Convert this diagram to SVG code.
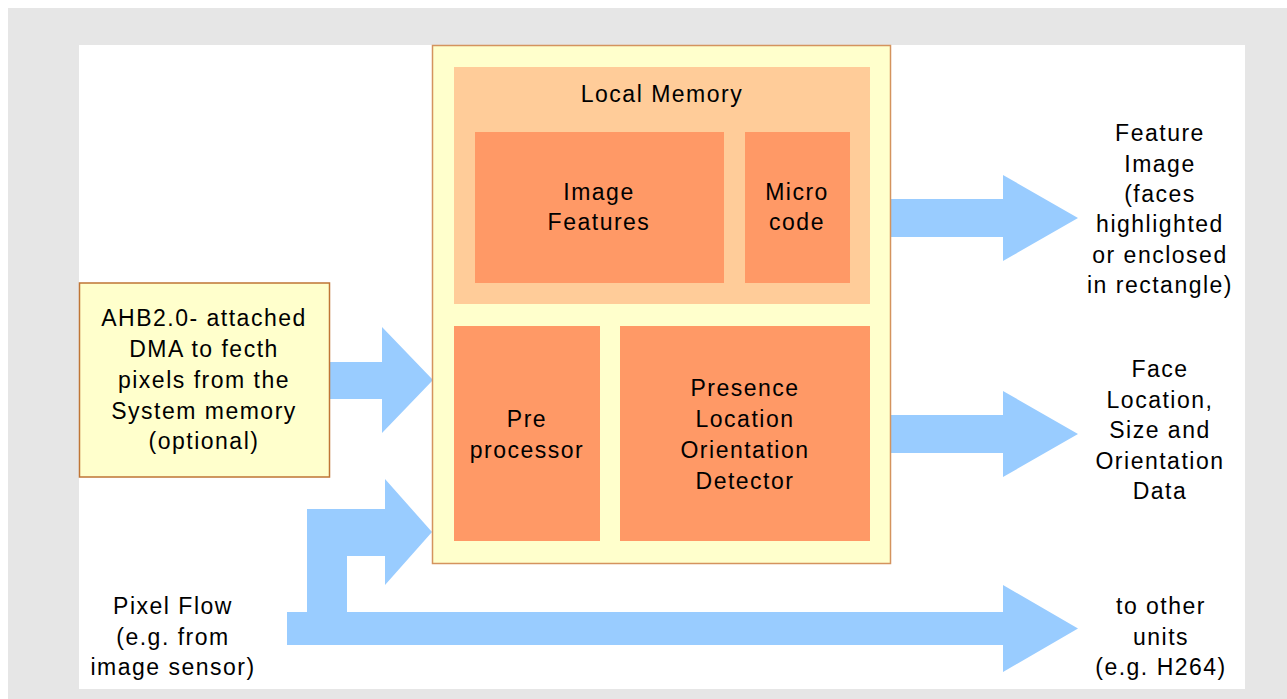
<svg xmlns="http://www.w3.org/2000/svg" width="1287" height="699" viewBox="0 0 1287 699">
<style>
  .lbl { font-family: "Liberation Sans", Arial, sans-serif; font-size: 23px; letter-spacing: 1.5px; fill: #000; text-anchor: middle; }
  .flow { fill: #99CCFF; }
  .yellow { fill: #FFFFCC; }
  .mem { fill: #FFCC99; }
  .blk { fill: #FF9966; }
</style>
<rect x="8" y="8" width="1279" height="691" fill="#E6E6E6"/>
<rect x="79" y="45" width="1166" height="644" fill="#FFFFFF"/>

<g id="connectors">
  <polygon class="flow" points="329,362 382,362 382,327 433,380 382,433 382,399 329,399"/>
  <polygon class="flow" points="891,199 1003,199 1003,175 1078,218 1003,261 1003,237 891,237"/>
  <polygon class="flow" points="891,415 1003,415 1003,391 1078,434 1003,477 1003,453 891,453"/>
  <polygon class="flow" points="287,612 1003,612 1003,585 1078,628.5 1003,672 1003,645 287,645"/>
  <polygon class="flow" points="307,613 307,509 385,509 385,479 432,532 385,585 385,556 347,556 347,613"/>
</g>

<g id="processor">
  <rect class="yellow" x="432.5" y="45.5" width="458" height="518" stroke="#D4935E" stroke-width="1.5"/>
</g>

<g id="local-memory">
  <rect class="mem" x="454" y="67" width="416" height="237"/>
  <text class="lbl" x="662" y="102">Local Memory</text>
</g>

<g id="image-features">
  <rect class="blk" x="475" y="132" width="249" height="151"/>
  <text class="lbl" x="599" y="200">Image</text>
  <text class="lbl" x="599" y="230">Features</text>
</g>

<g id="micro-code">
  <rect class="blk" x="745" y="132" width="105" height="151"/>
  <text class="lbl" x="797" y="200">Micro</text>
  <text class="lbl" x="797" y="230">code</text>
</g>

<g id="pre-processor">
  <rect class="blk" x="454" y="326" width="146" height="215"/>
  <text class="lbl" x="527" y="427">Pre</text>
  <text class="lbl" x="527" y="457.5">processor</text>
</g>

<g id="detector">
  <rect class="blk" x="620" y="326" width="250" height="215"/>
  <text class="lbl" x="745" y="396">Presence</text>
  <text class="lbl" x="745" y="427">Location</text>
  <text class="lbl" x="745" y="457.5">Orientation</text>
  <text class="lbl" x="745" y="488.5">Detector</text>
</g>

<g id="dma">
  <rect class="yellow" x="79.5" y="283" width="250" height="194" stroke="#BF7535" stroke-width="1.5"/>
  <text class="lbl" x="204" y="326">AHB2.0- attached</text>
  <text class="lbl" x="204" y="357">DMA to fecth</text>
  <text class="lbl" x="204" y="388">pixels from the</text>
  <text class="lbl" x="204" y="418.5">System memory</text>
  <text class="lbl" x="204" y="449">(optional)</text>
</g>

<g id="pixel-flow">
  <text class="lbl" x="173" y="614">Pixel Flow</text>
  <text class="lbl" x="173" y="644.5">(e.g. from</text>
  <text class="lbl" x="173" y="675">image sensor)</text>
</g>

<g id="feature-image">
  <text class="lbl" x="1160" y="141">Feature</text>
  <text class="lbl" x="1160" y="171.5">Image</text>
  <text class="lbl" x="1160" y="202">(faces</text>
  <text class="lbl" x="1160" y="232">highlighted</text>
  <text class="lbl" x="1160" y="262.5">or enclosed</text>
  <text class="lbl" x="1160" y="293">in rectangle)</text>
</g>

<g id="face-data">
  <text class="lbl" x="1160" y="377">Face</text>
  <text class="lbl" x="1160" y="407.5">Location,</text>
  <text class="lbl" x="1160" y="438">Size and</text>
  <text class="lbl" x="1160" y="468.5">Orientation</text>
  <text class="lbl" x="1160" y="499">Data</text>
</g>

<g id="other-units">
  <text class="lbl" x="1161" y="614">to other</text>
  <text class="lbl" x="1161" y="644.5">units</text>
  <text class="lbl" x="1161" y="675">(e.g. H264)</text>
</g>
</svg>
